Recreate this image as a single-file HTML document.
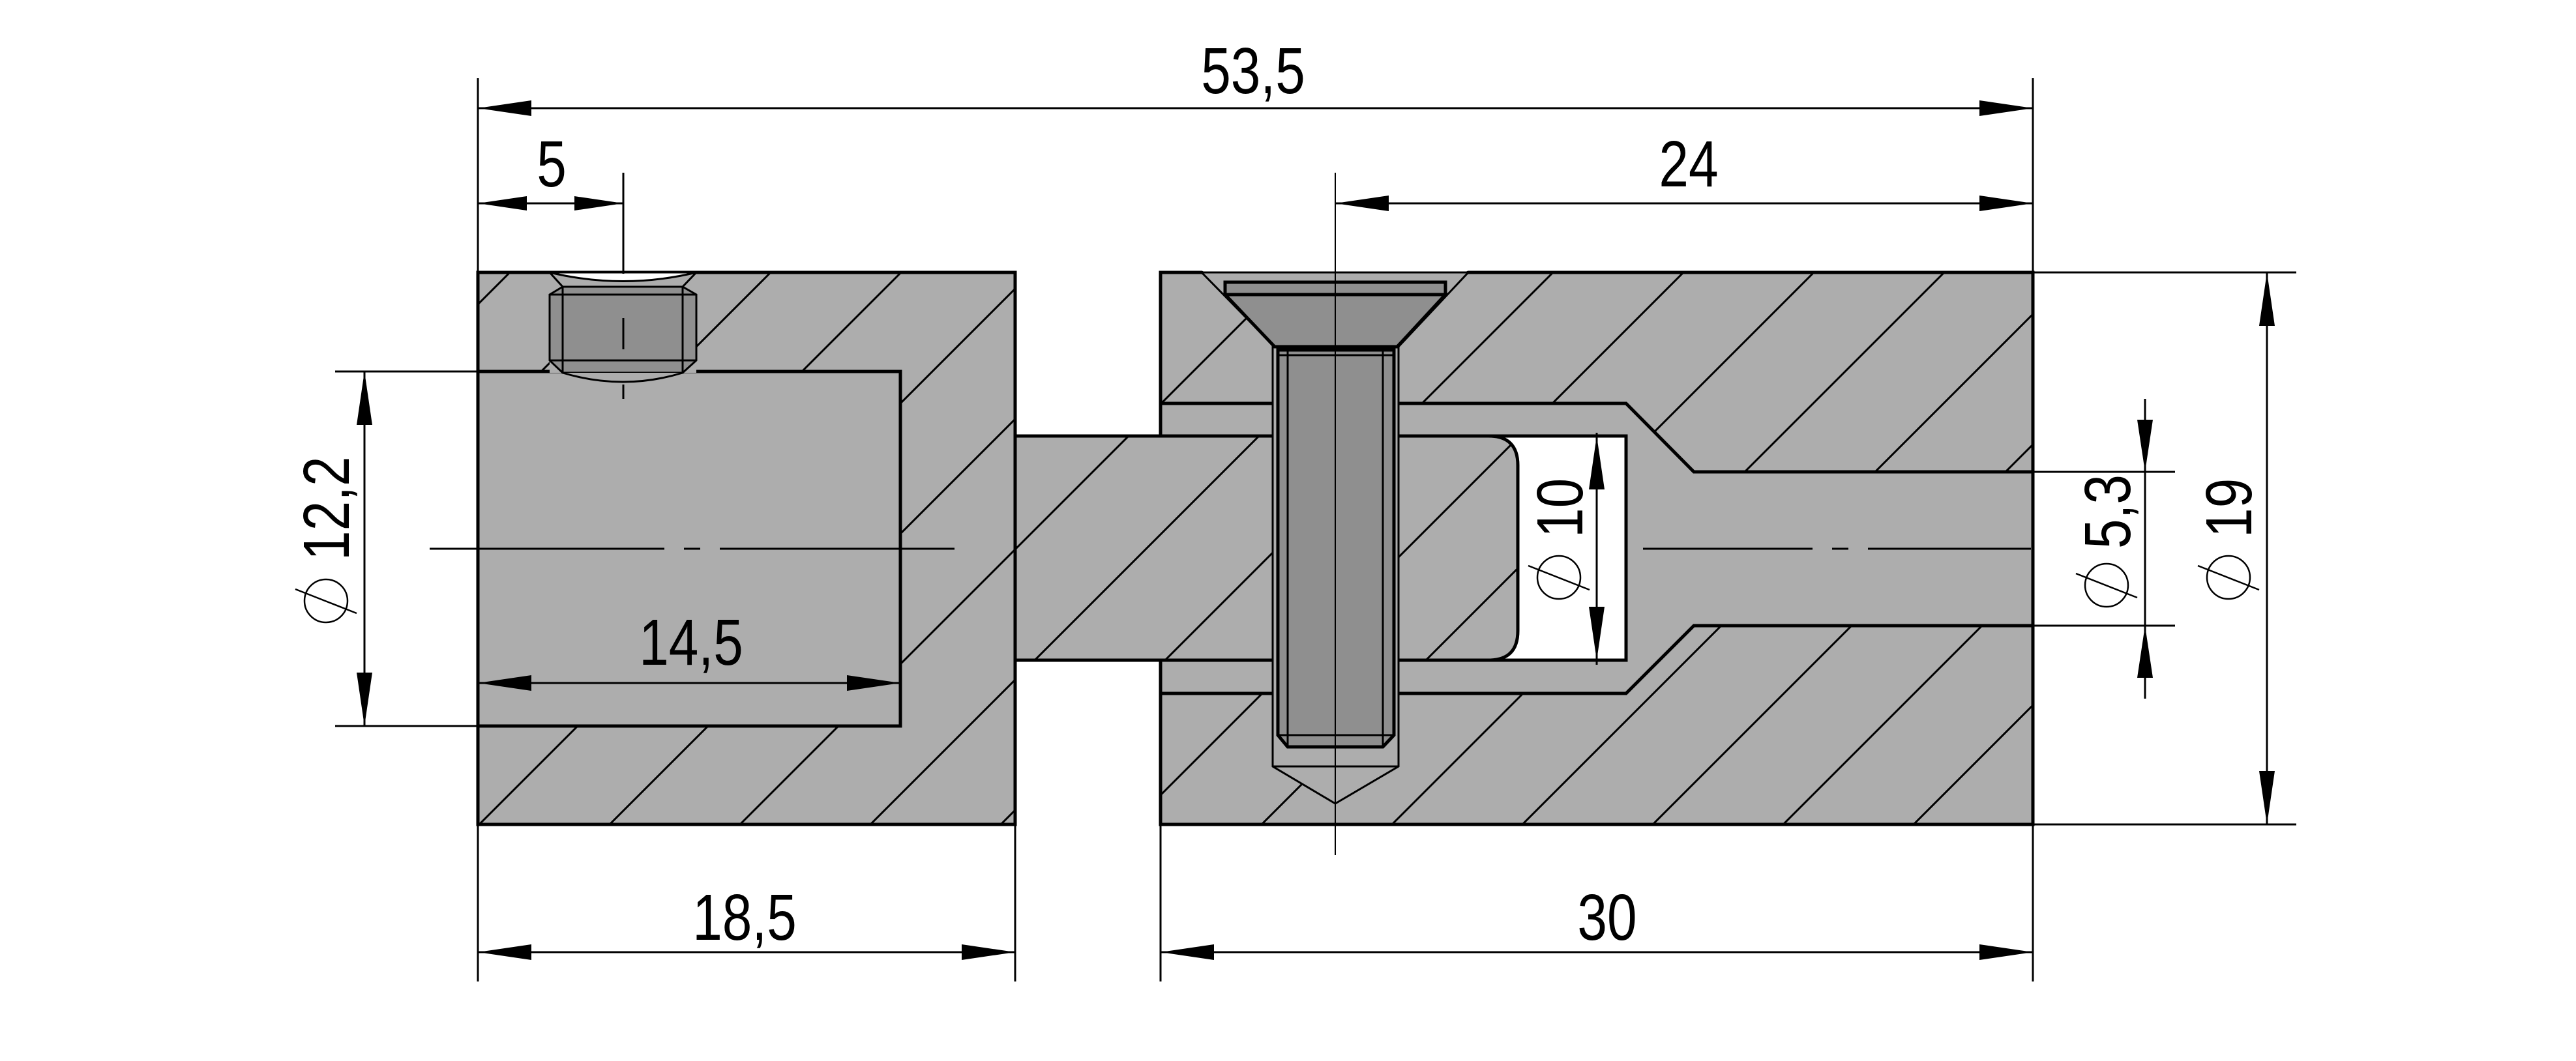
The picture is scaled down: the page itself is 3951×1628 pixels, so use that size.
<!DOCTYPE html>
<html><head><meta charset="utf-8"><style>
html,body{margin:0;padding:0;background:#fff;}
svg{display:block;}
text{font-family:"Liberation Sans",sans-serif;font-size:100px;fill:#000;}
</style></head><body>
<svg width="3951" height="1628" viewBox="0 0 3951 1628" xmlns="http://www.w3.org/2000/svg">
<defs>
<pattern id="h" patternUnits="userSpaceOnUse" width="200" height="200">
<rect width="200" height="200" fill="#adadad"/>
<line x1="-10" y1="210" x2="210" y2="-10" stroke="#000" stroke-width="3"/>
<line x1="-110" y1="110" x2="110" y2="-110" stroke="#000" stroke-width="3"/>
<line x1="90" y1="310" x2="310" y2="90" stroke="#000" stroke-width="3"/>
</pattern>
</defs>
<g stroke="#000" stroke-width="5" stroke-linejoin="miter">
<!-- left block -->
<rect x="733" y="418" width="824" height="847" fill="url(#h)"/>
<rect x="733" y="570" width="648" height="544" fill="#adadad"/>
<!-- right block -->
<path d="M1780,418 L1843,418 L1877,433 L2217,433 L2252,418 L3118,418 L3118,1265 L1780,1265 Z" fill="url(#h)"/>
<!-- pocket + bore -->
<path d="M1780,619 L2494,619 L2598,724 L3118,724 L3118,960 L2598,960 L2494,1064 L1780,1064 Z" fill="#adadad"/>
<rect x="2250" y="669" width="244" height="344" fill="#fff"/>
<!-- neck -->
<path d="M1557,669 L2283,669 Q2328,669 2328,714 L2328,968 Q2328,1013 2283,1013 L1557,1013 Z" fill="url(#h)"/>
<!-- screw hole -->
<path d="M1843,418 L1955,532 L1952,532 L1952,1176 L2048,1233 L2145,1176 L2145,532 L2252,418 Z" fill="#adadad" stroke-width="3"/>
<line x1="1952" y1="1176" x2="2145" y2="1176" stroke-width="3"/>
<!-- screw -->
<rect x="1879" y="433" width="338" height="19" fill="#8f8f8f"/>
<path d="M1879,452 L2217,452 L2143,532 L1955,532 Z" fill="#8f8f8f"/>
<path d="M1960,537 L2138,537 L2138,1128 L2121,1146 L1975,1146 L1960,1128 Z" fill="#8f8f8f"/>
<line x1="1975" y1="537" x2="1975" y2="1146" stroke-width="3"/>
<line x1="2121" y1="537" x2="2121" y2="1146" stroke-width="3"/>
<line x1="1960" y1="545" x2="2138" y2="545" stroke-width="3"/>
<line x1="1960" y1="1128" x2="2138" y2="1128" stroke-width="3"/>
<!-- set screw -->
<rect x="843" y="418" width="225" height="154" fill="#adadad" stroke="none"/>
<path d="M843,418 L863,440 L863,572 M1068,418 L1047,440 L1047,572" fill="none" stroke-width="3"/>
<path d="M843,418 Q956,445 1068,418 Z" fill="#fff" stroke-width="3"/>
<path d="M843,452 L863,440 L1047,440 L1068,452 L1068,553 L1047,572 L863,572 L843,553 Z" fill="#8f8f8f" stroke-width="3"/>
<rect x="863" y="440" width="184" height="132" fill="#8f8f8f" stroke-width="3"/>
<line x1="843" y1="452" x2="1068" y2="452" stroke-width="3"/>
<line x1="843" y1="553" x2="1068" y2="553" stroke-width="3"/>
<path d="M863,572 Q956,600 1047,572" fill="#adadad" stroke-width="3"/>
</g>
<!-- thin lines -->
<g stroke="#000" stroke-width="3" fill="none">
<line x1="733" y1="120" x2="733" y2="418"/>
<line x1="3118" y1="120" x2="3118" y2="418"/>
<line x1="3118" y1="1265" x2="3118" y2="1506"/>
<line x1="733" y1="1265" x2="733" y2="1506"/>
<line x1="1557" y1="1265" x2="1557" y2="1506"/>
<line x1="1780" y1="1265" x2="1780" y2="1506"/>
<line x1="733" y1="166" x2="3118" y2="166"/>
<line x1="733" y1="312" x2="956" y2="312"/>
<line x1="2048" y1="312" x2="3118" y2="312"/>
<line x1="956" y1="265" x2="956" y2="420"/>
<line x1="956" y1="488" x2="956" y2="536"/>
<line x1="956" y1="590" x2="956" y2="612"/>
<line x1="2048" y1="265" x2="2048" y2="1312" stroke-width="2"/>
<line x1="733" y1="1461" x2="1557" y2="1461"/>
<line x1="1780" y1="1461" x2="3118" y2="1461"/>
<line x1="733" y1="1048" x2="1381" y2="1048"/>
<line x1="514" y1="570" x2="733" y2="570"/>
<line x1="514" y1="1114" x2="733" y2="1114"/>
<line x1="559" y1="570" x2="559" y2="1114"/>
<line x1="3118" y1="418" x2="3522" y2="418"/>
<line x1="3118" y1="1265" x2="3522" y2="1265"/>
<line x1="3477" y1="418" x2="3477" y2="1265"/>
<line x1="3118" y1="724" x2="3336" y2="724"/>
<line x1="3118" y1="960" x2="3336" y2="960"/>
<line x1="3290" y1="612" x2="3290" y2="1072"/>
<line x1="2449" y1="664" x2="2449" y2="1020"/>
<line x1="659" y1="842" x2="1470" y2="842" stroke-dasharray="360 30 25 30"/>
<line x1="2520" y1="842" x2="3115" y2="842" stroke-dasharray="260 30 25 30"/>
</g>
<!-- arrowheads -->
<g fill="#000">
<path d="M733,166 l82,-12 v24 Z"/><path d="M3118,166 l-82,-12 v24 Z"/>
<path d="M733,312 l75,-11 v22 Z"/><path d="M956,312 l-75,-11 v22 Z"/>
<path d="M2048,312 l82,-12 v24 Z"/><path d="M3118,312 l-82,-12 v24 Z"/>
<path d="M733,1461 l82,-12 v24 Z"/><path d="M1557,1461 l-82,-12 v24 Z"/>
<path d="M1780,1461 l82,-12 v24 Z"/><path d="M3118,1461 l-82,-12 v24 Z"/>
<path d="M733,1048 l82,-12 v24 Z"/><path d="M1381,1048 l-82,-12 v24 Z"/>
<path d="M559,570 l-12,82 h24 Z"/><path d="M559,1114 l-12,-82 h24 Z"/>
<path d="M3477,418 l-12,82 h24 Z"/><path d="M3477,1265 l-12,-82 h24 Z"/>
<path d="M3290,724 l-12,-80 h24 Z"/><path d="M3290,960 l-12,80 h24 Z"/>
<path d="M2449,669 l-12,82 h24 Z"/><path d="M2449,1013 l-12,-82 h24 Z"/>
</g>
<!-- text -->
<g>
<text transform="translate(1922,143) scale(0.82,1)" text-anchor="middle">53,5</text>
<text transform="translate(846,286) scale(0.82,1)" text-anchor="middle">5</text>
<text transform="translate(2590,286) scale(0.82,1)" text-anchor="middle">24</text>
<text transform="translate(1060,1020) scale(0.82,1)" text-anchor="middle">14,5</text>
<text transform="translate(1142,1442) scale(0.82,1)" text-anchor="middle">18,5</text>
<text transform="translate(2465,1442) scale(0.82,1)" text-anchor="middle">30</text>
<text transform="translate(535,860) rotate(-90) scale(0.82,1)">12,2</text>
<text transform="translate(2427,825) rotate(-90) scale(0.82,1)">10</text>
<text transform="translate(3267,842) rotate(-90) scale(0.82,1)">5,3</text>
<text transform="translate(3453,825) rotate(-90) scale(0.82,1)">19</text>
</g>
<g stroke="#000" stroke-width="2.5" fill="none">
<circle cx="500" cy="922" r="33"/><line x1="453" y1="904" x2="547" y2="941"/>
<circle cx="2391" cy="886" r="33"/><line x1="2344" y1="868" x2="2438" y2="905"/>
<circle cx="3231" cy="898" r="33"/><line x1="3184" y1="880" x2="3278" y2="917"/>
<circle cx="3418" cy="886" r="33"/><line x1="3371" y1="868" x2="3465" y2="905"/>
</g>
</svg>
</body></html>
